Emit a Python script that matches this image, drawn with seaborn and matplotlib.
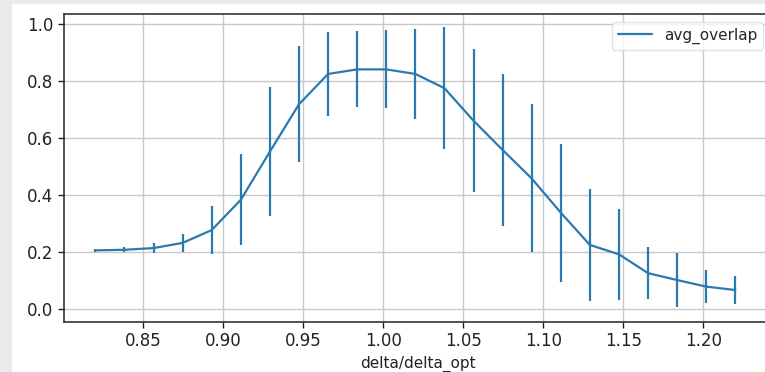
import matplotlib
matplotlib.use("Agg")
import matplotlib.pyplot as plt
import seaborn as sns
import pandas as pd

delta_ratio = [0.8200, 0.8382, 0.8564, 0.8745, 0.8927, 0.9109, 0.9291, 0.9473,
               0.9655, 0.9836, 1.0018, 1.0200, 1.0382, 1.0564, 1.0745, 1.0927,
               1.1109, 1.1291, 1.1473, 1.1655, 1.1836, 1.2018, 1.2200]
avg_overlap = [0.207, 0.209, 0.215, 0.233, 0.278, 0.384, 0.553, 0.719,
               0.825, 0.841, 0.841, 0.825, 0.775, 0.661, 0.559, 0.459,
               0.339, 0.226, 0.193, 0.127, 0.103, 0.080, 0.068]
overlap_err = [0.005, 0.008, 0.018, 0.032, 0.083, 0.159, 0.226, 0.203,
               0.147, 0.133, 0.137, 0.158, 0.213, 0.251, 0.266, 0.259,
               0.242, 0.196, 0.159, 0.092, 0.093, 0.058, 0.050]

df = pd.DataFrame({"delta/delta_opt": delta_ratio, "avg_overlap": avg_overlap,
                   "err": overlap_err})

sns.set_style("white")
plt.rcParams['font.family'] = ['DejaVu Sans']

fig = plt.figure(figsize=(7.65, 3.72), dpi=100)
# light gray screenshot frame on top and left
fig.patches.append(plt.Rectangle((0, 1 - 3/372), 1, 3/372, transform=fig.transFigure,
                                 color="#ebebeb", zorder=-1))
fig.patches.append(plt.Rectangle((0, 0), 11/765, 1, transform=fig.transFigure,
                                 color="#ebebeb", zorder=-1))

ax = fig.add_axes([64/765, 1 - 322/372, (771-64)/765, (322-14)/372])
color = "#2a7ab0"
sns.lineplot(data=df, x="delta/delta_opt", y="avg_overlap", ax=ax, color=color,
             linewidth=1.6, label="avg_overlap")
ax.errorbar(df["delta/delta_opt"], df["avg_overlap"], yerr=df["err"], fmt="none",
            ecolor=color, elinewidth=1.6)

ax.set_xlim(0.8004, 1.2423)
ax.set_ylim(-0.044, 1.035)
ax.set_xticks([0.85, 0.90, 0.95, 1.00, 1.05, 1.10, 1.15, 1.20])
ax.set_yticks([0.0, 0.2, 0.4, 0.6, 0.8, 1.0])
ax.set_xticklabels(["0.85", "0.90", "0.95", "1.00", "1.05", "1.10", "1.15", "1.20"])
ax.set_yticklabels(["0.0", "0.2", "0.4", "0.6", "0.8", "1.0"])
ax.tick_params(axis="both", labelsize=12, length=4, width=1, colors="#222222",
               direction="out", bottom=True, left=True)
ax.grid(True, color="#c8c8c8", linewidth=1)
ax.set_axisbelow(True)
for s in ax.spines.values():
    s.set_color("#333333")
    s.set_linewidth(1.2)
ax.set_xlabel("delta/delta_opt", fontsize=11, color="#222222")
ax.set_ylabel("")
leg = ax.legend(loc="upper right", fontsize=11, frameon=True, handlelength=2.2)
leg.get_frame().set_edgecolor("#dddddd")

fig.savefig("out.png", dpi=100)
